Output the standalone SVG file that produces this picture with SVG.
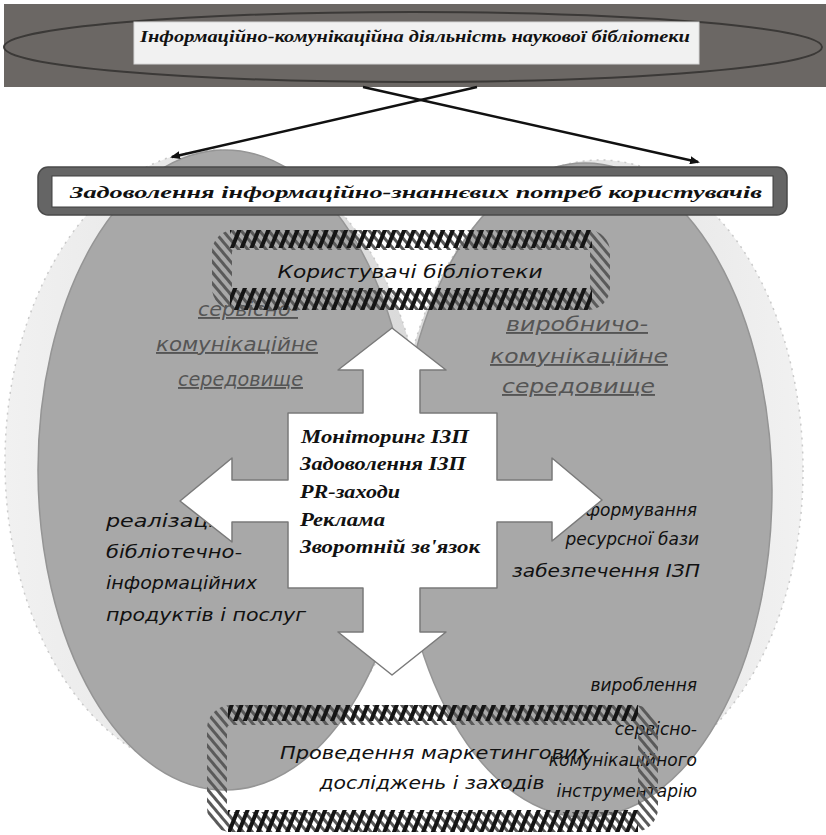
<svg xmlns="http://www.w3.org/2000/svg" width="826" height="835" viewBox="0 0 826 835">
<defs>
<style>
.serifb{font-family:"Liberation Serif","DejaVu Serif",serif;font-weight:bold;font-style:italic;fill:#111}
.sans{font-family:"DejaVu Sans","Noto Sans",sans-serif;font-style:italic;fill:#111}
.ul{font-family:"DejaVu Sans","Noto Sans",sans-serif;font-style:italic;fill:#555;text-decoration:underline}
.circ{fill:#a8a8a8;stroke:#959595;stroke-width:1.5}
.ring{fill:url(#ringg);stroke:#c9c9c9;stroke-width:1.5;stroke-dasharray:2 5}
.conn{stroke:#111;stroke-width:2.5;fill:none;marker-end:url(#ah)}
</style>
<linearGradient id="ringg" x1="0" y1="0" x2="1" y2="0">
<stop offset="0" stop-color="#f1f1f1"/><stop offset="1" stop-color="#d9d9d9"/>
</linearGradient>
<linearGradient id="ringg2" x1="0" y1="0" x2="1" y2="0">
<stop offset="0" stop-color="#d9d9d9"/><stop offset="1" stop-color="#f1f1f1"/>
</linearGradient>
<pattern id="hatchK" width="9" height="9" patternUnits="userSpaceOnUse" patternTransform="rotate(22)">
<rect x="0" y="0" width="4" height="9" fill="#151515"/>
</pattern>
<pattern id="hatchG" width="7" height="7" patternUnits="userSpaceOnUse" patternTransform="rotate(-40)">
<rect x="0" y="0" width="3" height="7" fill="#5a5a5a"/>
</pattern>
<marker id="ah" markerWidth="10" markerHeight="8" refX="8" refY="4" orient="auto" markerUnits="userSpaceOnUse">
<path d="M0,0 L10,4 L0,8 Z" fill="#111"/>
</marker>
</defs>
<rect width="826" height="835" fill="#ffffff"/>

<g id="title">
<rect x="4" y="4" width="822" height="83" fill="#6b6764"/>
<ellipse cx="413" cy="47" rx="409" ry="35" fill="none" stroke="#3b3937" stroke-width="2"/>
<rect x="134" y="22" width="565" height="42" fill="#f1f1f1" stroke="#d6d6d6"/>
<text class="serifb" x="140" y="42" font-size="17" textLength="550" lengthAdjust="spacingAndGlyphs">Інформаційно-комунікаційна діяльність наукової бібліотеки</text>
</g>

<g id="environments">
<ellipse class="ring" cx="215" cy="462" rx="210" ry="312"/>
<ellipse class="ring" cx="600" cy="470" rx="203" ry="310" style="fill:url(#ringg2)"/>
<ellipse class="circ" cx="225" cy="470" rx="187" ry="320"/>
<ellipse class="circ" cx="585" cy="490" rx="187" ry="327"/>
</g>

<g id="banner">
<rect x="38" y="167" width="749" height="48" rx="10" fill="#656565" stroke="#4a4a4a" stroke-width="1.5"/>
<rect x="52" y="176" width="721" height="31" fill="#ffffff" stroke="#3f3f3f" stroke-width="1"/>
<text class="serifb" x="70" y="198" font-size="17" textLength="692" lengthAdjust="spacingAndGlyphs">Задоволення інформаційно-знаннєвих потреб користувачів</text>
</g>

<g id="labels">
<text class="ul" x="198" y="316" font-size="19" textLength="100" lengthAdjust="spacingAndGlyphs">сервісно-</text>
<text class="ul" x="156" y="351" font-size="19" textLength="162" lengthAdjust="spacingAndGlyphs">комунікаційне</text>
<text class="ul" x="178" y="386" font-size="19" textLength="125" lengthAdjust="spacingAndGlyphs">середовище</text>
<text class="ul" x="506" y="331" font-size="19" textLength="142" lengthAdjust="spacingAndGlyphs">виробничо-</text>
<text class="ul" x="490" y="363" font-size="19" textLength="178" lengthAdjust="spacingAndGlyphs">комунікаційне</text>
<text class="ul" x="502" y="393" font-size="19" textLength="153" lengthAdjust="spacingAndGlyphs">середовище</text>

<text class="sans" x="106" y="527" font-size="17" textLength="122" lengthAdjust="spacingAndGlyphs">реалізація</text>
<text class="sans" x="106" y="558" font-size="17" textLength="136" lengthAdjust="spacingAndGlyphs">бібліотечно-</text>
<text class="sans" x="106" y="589" font-size="17" textLength="151" lengthAdjust="spacingAndGlyphs">інформаційних</text>
<text class="sans" x="106" y="621" font-size="17" textLength="200" lengthAdjust="spacingAndGlyphs">продуктів і послуг</text>

<text class="sans" x="697" y="516" font-size="17" text-anchor="end">формування</text>
<text class="sans" x="699" y="545" font-size="17" text-anchor="end">ресурсної бази</text>
<text class="sans" x="512" y="577" font-size="17" textLength="188" lengthAdjust="spacingAndGlyphs">забезпечення ІЗП</text>

<text class="sans" x="697" y="691" font-size="17" text-anchor="end">вироблення</text>
<text class="sans" x="697" y="735" font-size="17" text-anchor="end">сервісно-</text>
<text class="sans" x="697" y="766" font-size="17" text-anchor="end">комунікаційного</text>
<text class="sans" x="697" y="797" font-size="17" text-anchor="end">інструментарію</text>
</g>

<g id="cross">
<path d="M392,328 L446,370 L420,370 L420,413 L497,413 L497,480 L552,480 L552,458 L602,500 L552,541 L552,522 L497,522 L497,588 L420,588 L420,632 L446,632 L392,675 L338,632 L363,632 L363,588 L288,588 L288,522 L232,522 L232,542 L180,501 L232,458 L232,480 L288,480 L288,413 L363,413 L363,370 L338,370 Z" fill="#ffffff" stroke="#7a7a7a" stroke-width="1.5" stroke-linejoin="round"/>
<text class="serifb" x="301" y="443" font-size="19" textLength="168" lengthAdjust="spacingAndGlyphs">Моніторинг ІЗП</text>
<text class="serifb" x="300" y="470" font-size="19" textLength="166" lengthAdjust="spacingAndGlyphs">Задоволення ІЗП</text>
<text class="serifb" x="300" y="498" font-size="19" textLength="100" lengthAdjust="spacingAndGlyphs">PR-заходи</text>
<text class="serifb" x="300" y="526" font-size="19" textLength="85" lengthAdjust="spacingAndGlyphs">Реклама</text>
<text class="serifb" x="300" y="553" font-size="19" textLength="180" lengthAdjust="spacingAndGlyphs">Зворотній зв'язок</text>
</g>

<g id="users">
<rect x="222" y="240" width="378" height="60" rx="12" fill="none" stroke="url(#hatchG)" stroke-width="20"/>
<line x1="230" y1="239" x2="592" y2="239" stroke="url(#hatchK)" stroke-width="18"/>
<line x1="230" y1="299" x2="592" y2="299" stroke="url(#hatchK)" stroke-width="22"/>
<text class="sans" x="410" y="278" font-size="17" text-anchor="middle" textLength="265" lengthAdjust="spacingAndGlyphs">Користувачі бібліотеки</text>
</g>

<g id="marketing">
<rect x="217" y="715" width="431" height="107" rx="14" fill="none" stroke="url(#hatchG)" stroke-width="20"/>
<line x1="228" y1="713" x2="638" y2="713" stroke="url(#hatchK)" stroke-width="16"/>
<line x1="228" y1="821" x2="638" y2="821" stroke="url(#hatchK)" stroke-width="22"/>
<text class="sans" x="435" y="759" font-size="17" text-anchor="middle" textLength="310" lengthAdjust="spacingAndGlyphs">Проведення маркетингових</text>
<text class="sans" x="432" y="789" font-size="17" text-anchor="middle" textLength="225" lengthAdjust="spacingAndGlyphs">досліджень і заходів</text>
</g>

<g id="connectors">
<line class="conn" x1="477" y1="87" x2="172" y2="157"/>
<line class="conn" x1="363" y1="87" x2="698" y2="162"/>
</g>
</svg>
